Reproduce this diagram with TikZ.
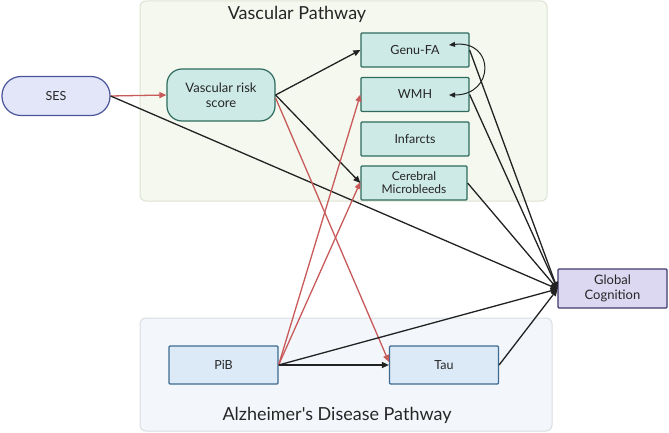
\documentclass[tikz,border=0pt]{standalone}
\usepackage{fontspec}
\setmainfont{Lato}
\newfontfamily\plainlato{Lato}
\usetikzlibrary{arrows.meta}
\definecolor{vpanel}{HTML}{F5F8EE}
\definecolor{vpaneld}{HTML}{DDE3D3}
\definecolor{apanel}{HTML}{F3F7FB}
\definecolor{apaneld}{HTML}{D8DEE4}
\definecolor{sesf}{HTML}{E3E6F8}
\definecolor{sesd}{HTML}{4A5499}
\definecolor{vasf}{HTML}{CDEAE6}
\definecolor{vasd}{HTML}{2E6B5E}
\definecolor{gcf}{HTML}{DCD8F2}
\definecolor{gcd}{HTML}{3F3A6B}
\definecolor{adf}{HTML}{DCEAF8}
\definecolor{add}{HTML}{3D6A8E}
\definecolor{redarr}{HTML}{C85A5A}
\definecolor{blkarr}{HTML}{222222}
\tikzset{
  panelV/.style={draw=vpaneld, fill=vpanel, line width=1pt, rounded corners=6pt},
  panelA/.style={draw=apaneld, fill=apanel, line width=1pt, rounded corners=6pt},
  vbox/.style={draw=vasd, fill=vasf, line width=1.2pt, minimum width=108pt, minimum height=34pt, align=center, font=\fontsize{12.5}{14}\selectfont, inner sep=1pt, rounded corners=1pt, text=black!85},
  abox/.style={draw=add, fill=adf, line width=1.2pt, minimum width=109pt, minimum height=38pt, align=center, font=\fontsize{12.5}{14}\selectfont, inner sep=1pt, rounded corners=1pt, text=black!85},
  redline/.style={draw=redarr, line width=1.3pt, -{Triangle[length=7pt,width=6pt]}},
  blkline/.style={draw=blkarr, line width=1.3pt, -{Triangle[length=7pt,width=6pt]}},
  paneltitle/.style={font=\plainlato\fontsize{18}{20}\selectfont, text=black!85}
}
\begin{document}
\begin{tikzpicture}[x=1pt,y=-1pt]
\useasboundingbox (0,0) rectangle (669,433);
\fill[white] (0,0) rectangle (669,433);
% panels
\draw[panelV] (140,1) rectangle (547,201);
\draw[panelA] (140,318) rectangle (552,431);
\node[paneltitle] (vtitle) at (297,14) {Vascular Pathway};
\node[paneltitle] (atitle) at (337,415) {Alzheimer's Disease Pathway};
% nodes
\node[draw=sesd, fill=sesf, line width=1.2pt, minimum width=108pt, minimum height=39pt, rounded corners=19pt, font=\fontsize{12.5}{14}\selectfont, text=black!85] (ses) at (56,96) {SES};
\node[draw=vasd, fill=vasf, line width=1.2pt, minimum width=108pt, minimum height=52pt, rounded corners=15pt, align=center, font=\fontsize{13}{15}\selectfont, text=black!85] (vrs) at (221,95) {Vascular risk\\score};
\node[vbox] (genu) at (415,50) {Genu-FA};
\node[vbox] (wmh) at (415,94.5) {WMH};
\node[vbox] (inf) at (415,139) {Infarcts};
\node[vbox, minimum width=106pt, font=\fontsize{12}{13}\selectfont] (cmb) at (414,183) {Cerebral\\Microbleeds};
\node[draw=gcd, fill=gcf, line width=1.2pt, minimum width=109pt, minimum height=39pt, align=center, font=\fontsize{13}{15}\selectfont, rounded corners=1pt, text=black!85] (gc) at (612.5,288.5) {Global\\Cognition};
\node[abox] (pib) at (223.5,365) {PiB};
\node[abox] (tau) at (444,365) {Tau};
\coordinate (gcin) at (557.5,289);
% edges
\draw[redline] (ses.east) -- (vrs.west);
\draw[blkline] (ses.east) -- (gcin);
\draw[blkline] (vrs.east) -- (genu.west);
\draw[blkline] (vrs.east) -- (cmb.west);
\draw[redline] ([yshift=-3pt]vrs.east) -- ([yshift=3pt]tau.west);
\draw[redline] (pib.east) -- ([yshift=0pt]wmh.west);
\draw[redline] (pib.east) -- ([yshift=1pt]cmb.west);
\draw[blkline] (pib.east) -- (tau.west);
\draw[blkline] (pib.east) -- (gcin);
\draw[blkline] (tau.east) -- (gcin);
\draw[blkline] (genu.east) -- (gcin);
\draw[blkline] (wmh.east) -- (gcin);
\draw[blkline] (cmb.east) -- (gcin);
\coordinate (g1) at (449,45);
\coordinate (w1) at (449,95);
\draw[draw=blkarr, line width=1pt, {Triangle[length=6pt,width=5pt]}-{Triangle[length=6pt,width=5pt]}] (g1) .. controls (495,40) and (495,95) .. (w1);
\end{tikzpicture}
\end{document}
